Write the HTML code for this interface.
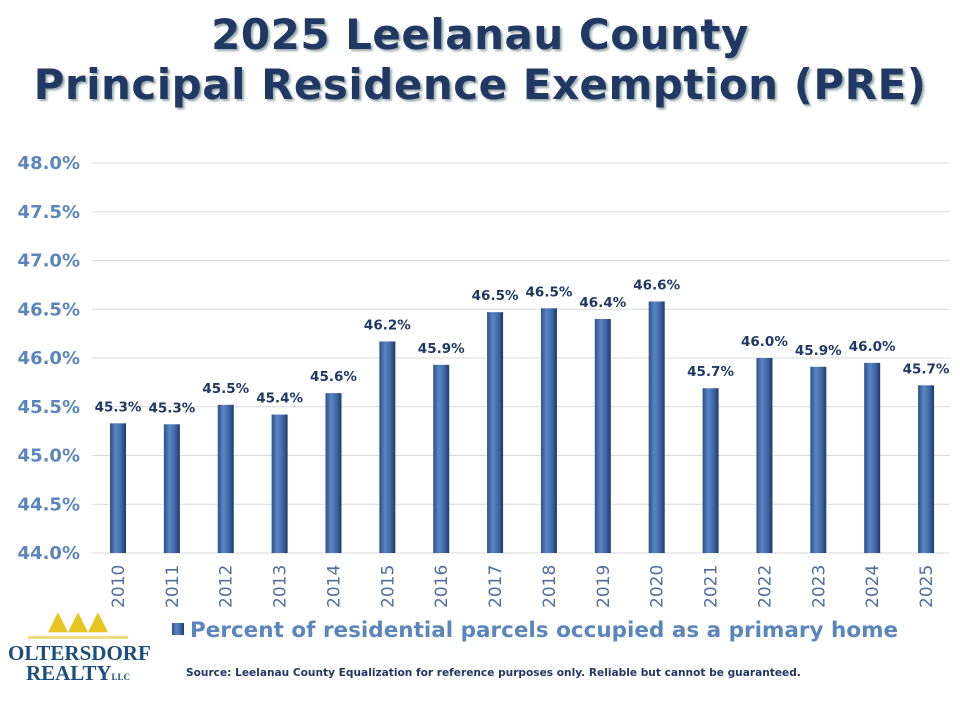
<!DOCTYPE html>
<html><head><meta charset="utf-8"><style>
body{margin:0;width:960px;height:720px;background:#fff;overflow:hidden;font-family:"DejaVu Sans","Liberation Sans",sans-serif}
.t{position:absolute;left:0;width:960px;text-align:center;font-weight:bold;color:#1f3864;font-size:42px;text-shadow:2px 2px 2px #9aa;letter-spacing:0.5px}
</style></head><body>
<div class="t" style="top:10px">2025 Leelanau County</div>
<div class="t" style="top:60px">Principal Residence Exemption (PRE)</div>
<svg id="c" width="960" height="720" style="position:absolute;left:0;top:0">
<defs><linearGradient id="g" x1="0" x2="1"><stop offset="0" stop-color="#2d5088"/><stop offset="0.35" stop-color="#5b86c4"/><stop offset="0.7" stop-color="#3f67a6"/><stop offset="1" stop-color="#1e3a68"/></linearGradient></defs>
</svg>
<div style="position:absolute;left:8px;top:608px;width:140px;text-align:center">
<div style="color:#e8c420;font-size:26px;line-height:26px">▲▲▲</div>
<div style="height:3px;background:#f0dc80;margin:2px 20px 4px"></div>
<div style="font-family:'Liberation Serif',serif;font-weight:bold;color:#1d4e7e;font-size:21px;line-height:20px">OLTERSDORF</div>
<div style="font-family:'Liberation Serif',serif;font-weight:bold;color:#1d4e7e;font-size:21px;line-height:20px">REALTY<span style="font-size:9px">LLC</span></div>
</div>
<script>
const categories=["2010","2011","2012","2013","2014","2015","2016","2017","2018","2019","2020","2021","2022","2023","2024","2025"];
const values=[45.33,45.32,45.52,45.42,45.64,46.17,45.93,46.47,46.51,46.40,46.58,45.69,46.00,45.91,45.95,45.72];
const labels=["45.3%","45.3%","45.5%","45.4%","45.6%","46.2%","45.9%","46.5%","46.5%","46.4%","46.6%","45.7%","46.0%","45.9%","46.0%","45.7%"];
const ticks=[44.0,44.5,45.0,45.5,46.0,46.5,47.0,47.5,48.0];
const svg=document.getElementById('c');const NS="http://www.w3.org/2000/svg";
const y=v=>553-(v-44)/4*390;
const x=i=>118+i*53.87;
function mk(t,a,txt){const e=document.createElementNS(NS,t);for(const k in a)e.setAttribute(k,a[k]);if(txt!==undefined)e.textContent=txt;svg.appendChild(e);return e;}
ticks.forEach(t=>{
const l=mk('line',{x1:92,x2:950,y1:y(t),y2:y(t),stroke:'#d9d9d9','stroke-width':1});


const tx=mk('text',{x:80,y:y(t)+6,'text-anchor':'end','font-size':18,'font-weight':'bold',fill:'#5b86bd'},t.toFixed(1)+'%');


});
categories.forEach((c,i)=>{
const b=mk('rect',{x:x(i)-8,y:y(values[i]),width:16,height:553-y(values[i]),fill:'url(#g)'});


const lb=mk('text',{x:x(i),y:y(values[i])-12,'text-anchor':'middle','font-size':13.5,'font-weight':'bold',fill:'#1f3864'},labels[i]);


const xt=mk('text',{transform:`translate(${x(i)+6},608) rotate(-90)`,'font-size':17,fill:'#4f6f9a'},c);


});
const lg=mk('rect',{x:172,y:623,width:12,height:12,fill:'url(#g)'});


const lt=mk('text',{x:190,y:637,'font-size':21.5,'font-weight':'bold',fill:'#5b86bd'},'Percent of residential parcels occupied as a primary home');


const sr=mk('text',{x:186,y:676,'font-size':10.6,'font-weight':'bold',fill:'#1f3864'},'Source: Leelanau County Equalization for reference purposes only. Reliable but cannot be guaranteed.');


</script>
</body></html>
